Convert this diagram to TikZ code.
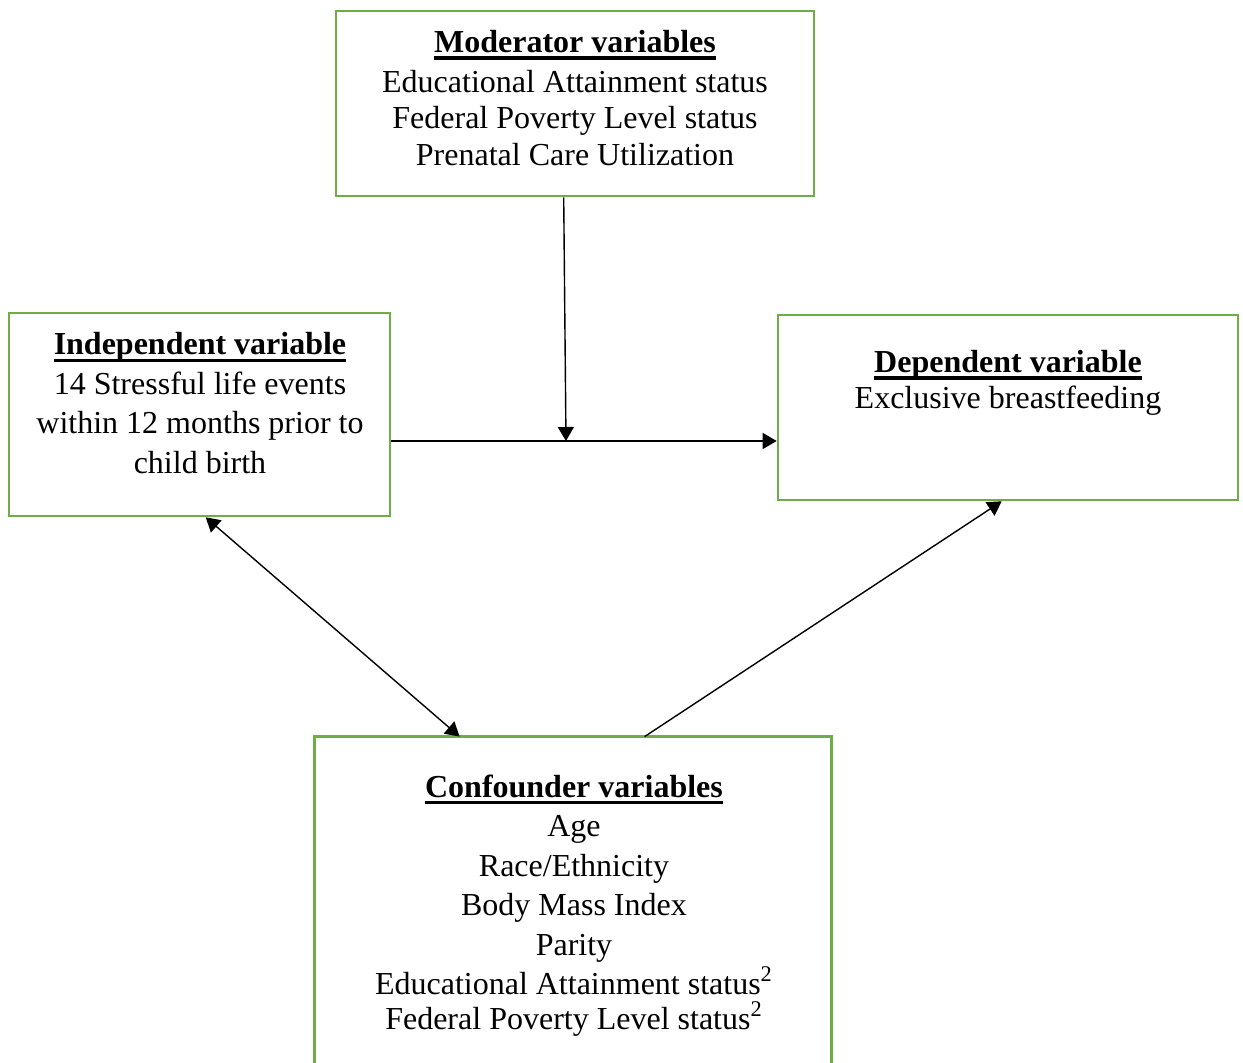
\documentclass[tikz,border=0pt]{standalone}
\usepackage{fontspec}
\setmainfont{Liberation Serif}
\usetikzlibrary{arrows.meta,calc}
\definecolor{boxgreen}{HTML}{70AD47}
\newcommand\ulbf[1]{\setbox0\hbox{\textbf{#1}}\rlap{\rule[-3.6pt]{\wd0}{1.6pt}}\box0}
\begin{document}
\begin{tikzpicture}[x=0.5pt,y=-0.5pt,
  vbox/.style={draw=boxgreen,line width=1.3pt,inner sep=0pt},
  vtext/.style={anchor=base,align=center,font=\fontsize{16}{19.75}\selectfont,inner sep=0pt},
  conn/.style={line width=0.7pt,-{Triangle[length=7pt,width=8pt]}},
  dconn/.style={line width=0.7pt,{Triangle[length=7pt,width=8pt]}-{Triangle[length=7pt,width=8pt]}}]
\useasboundingbox (0,0) rectangle (1243,1063);
% boxes
\node[vbox,minimum width=239pt,minimum height=92.5pt] (mod) at (575,103.5) {};
\node[vbox,minimum width=190.5pt,minimum height=101.5pt] (ind) at (199.5,414.5) {};
\node[vbox,minimum width=230pt,minimum height=92.5pt] (dep) at (1008,407.5) {};
\node[inner sep=0pt,minimum width=258pt,minimum height=163pt] (conf) at (573,900) {};
\draw[boxgreen,line width=1.3pt] (conf.south west) -- (conf.north west) -- (conf.north east) -- (conf.south east);
% texts (anchor=base refers to the last line)
\node[vtext] (modt) at (575,165.5) {\ulbf{Moderator variables}\\[0.25pt]
  Educational Attainment status\\[-1.5pt]
  Federal Poverty Level status\\[-1.5pt]
  Prenatal Care Utilization};
\node[vtext] (indt) at (200,473.5) {\ulbf{Independent variable}\\
  14 Stressful life events\\
  within 12 months prior to\\
  child birth};
\node[vtext] (dept) at (1008,408.5) {\ulbf{Dependent variable}\\[-1.75pt]
  Exclusive breastfeeding};
\node[vtext] (conft) at (574,1029.5) {\ulbf{Confounder variables}\\
  Age\\
  Race/Ethnicity\\
  Body Mass Index\\
  Parity\\
  Educational Attainment status\textsuperscript{2}\\[-2.25pt]
  Federal Poverty Level status\textsuperscript{2}};
% connectors
\coordinate (junc) at (566,441);
\draw[conn] ($(mod.south west)+(229,0)$) -- (junc);
\draw[conn] (ind.east |- junc) -- (dep.west |- junc);
\draw[dconn] ($(ind.south west)+(198,0)$) -- ($(conf.north west)+(145,0)$);
\draw[conn] ($(conf.north west)+(330,0)$) -- ($(dep.south west)+(225,0)$);
\end{tikzpicture}
\end{document}
